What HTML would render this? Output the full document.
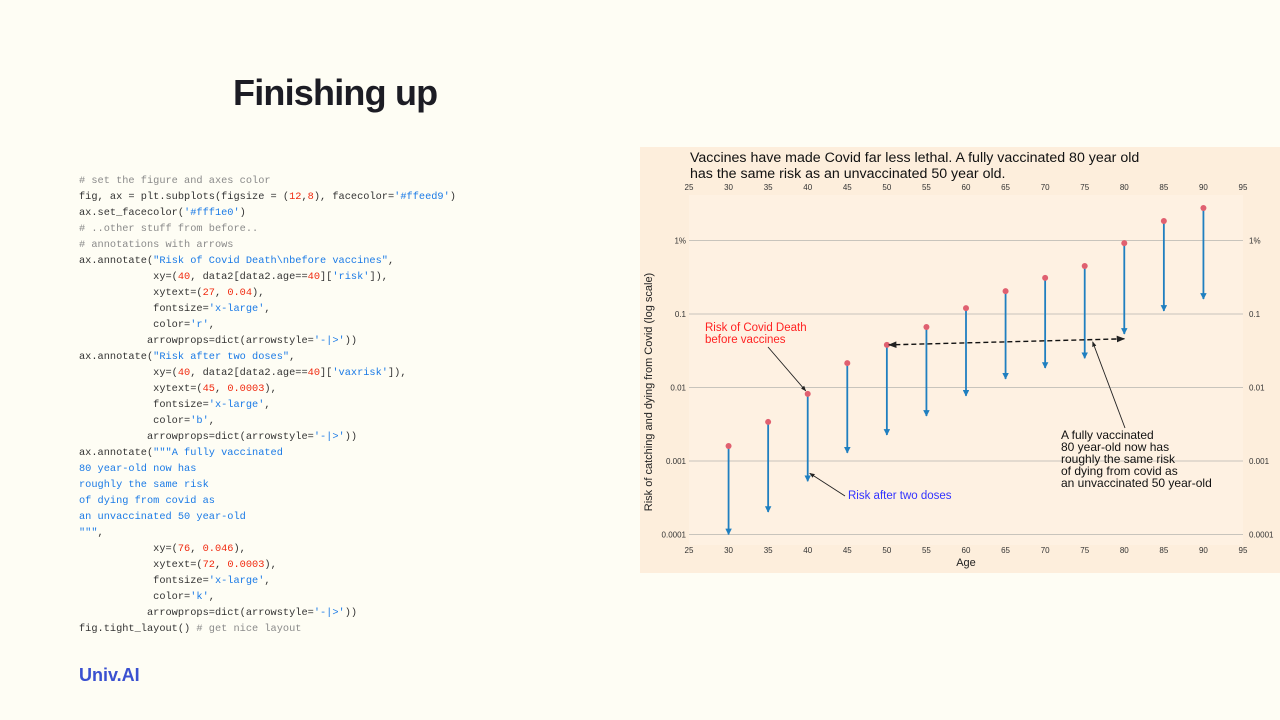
<!DOCTYPE html>
<html><head><meta charset="utf-8">
<style>
body{margin:0;width:1280px;height:720px;background:#fefdf4;position:relative;overflow:hidden;font-family:"Liberation Sans",sans-serif}
#title{position:absolute;left:233px;top:72px;font-size:36px;font-weight:bold;color:#1c1c24;letter-spacing:-0.8px}
#code{position:absolute;left:79px;top:173px;font-family:"Liberation Mono",monospace;font-size:10.3px;line-height:16px;color:#333;white-space:pre;margin:0}
.c{color:#8a8a8a}.s{color:#1a7ae6}.n{color:#f02a10}
#logo{position:absolute;left:79px;top:665px;font-size:18px;font-weight:bold;color:#3a50d0}
#chart{position:absolute;left:640px;top:147px}
</style></head><body>
<div id="title">Finishing up</div>
<pre id="code"><span class="c"># set the figure and axes color</span>
fig, ax = plt.subplots(figsize = (<span class="n">12</span>,<span class="n">8</span>), facecolor=<span class="s">'#ffeed9'</span>)
ax.set_facecolor(<span class="s">'#fff1e0'</span>)
<span class="c"># ..other stuff from before..</span>
<span class="c"># annotations with arrows</span>
ax.annotate(<span class="s">"Risk of Covid Death\nbefore vaccines"</span>,
            xy=(<span class="n">40</span>, data2[data2.age==<span class="n">40</span>][<span class="s">'risk'</span>]),
            xytext=(<span class="n">27</span>, <span class="n">0.04</span>),
            fontsize=<span class="s">'x-large'</span>,
            color=<span class="s">'r'</span>,
           arrowprops=dict(arrowstyle=<span class="s">'-|&gt;'</span>))
ax.annotate(<span class="s">"Risk after two doses"</span>,
            xy=(<span class="n">40</span>, data2[data2.age==<span class="n">40</span>][<span class="s">'vaxrisk'</span>]),
            xytext=(<span class="n">45</span>, <span class="n">0.0003</span>),
            fontsize=<span class="s">'x-large'</span>,
            color=<span class="s">'b'</span>,
           arrowprops=dict(arrowstyle=<span class="s">'-|&gt;'</span>))
ax.annotate(<span class="s">"""A fully vaccinated
80 year-old now has
roughly the same risk
of dying from covid as
an unvaccinated 50 year-old
"""</span>,
            xy=(<span class="n">76</span>, <span class="n">0.046</span>),
            xytext=(<span class="n">72</span>, <span class="n">0.0003</span>),
            fontsize=<span class="s">'x-large'</span>,
            color=<span class="s">'k'</span>,
           arrowprops=dict(arrowstyle=<span class="s">'-|&gt;'</span>))
fig.tight_layout() <span class="c"># get nice layout</span></pre>
<div id="logo">Univ.AI</div>
<svg id="chart" width="640" height="426" font-family="Liberation Sans, DejaVu Sans, sans-serif">
<defs><marker id="ah" viewBox="0 0 10 10" refX="9" refY="5" markerWidth="3.6" markerHeight="3.6" orient="auto"><path d="M0,0L10,5L0,10z" fill="#1f7fc0"/></marker>
<marker id="ak" viewBox="0 0 10 10" refX="9" refY="5" markerWidth="6" markerHeight="6" orient="auto-start-reverse"><path d="M0,1L10,5L0,9z" fill="#222"/></marker></defs>
<rect width="640" height="426" fill="#fdeedc"/>
<rect x="49" y="48" width="554" height="350" fill="#fef1e2"/>
<text x="50" y="15" font-size="14.2" fill="#111">Vaccines have made Covid far less lethal. A fully vaccinated 80 year old</text>
<text x="50" y="31" font-size="14.2" fill="#111">has the same risk as an unvaccinated 50 year old.</text>
<g id="grid"></g><g id="marks"></g>
<text x="326" y="419" font-size="11" text-anchor="middle" fill="#222">Age</text>
<text transform="translate(12,245) rotate(-90)" font-size="11" text-anchor="middle" fill="#222">Risk of catching and dying from Covid (log scale)</text>
<text x="65" y="184" font-size="11.5" fill="#f22">Risk of Covid Death</text>
<text x="65" y="196" font-size="11.5" fill="#f22">before vaccines</text>
<text x="208" y="352" font-size="11.5" fill="#33f">Risk after two doses</text>
<g font-size="12" fill="#111"><text x="421" y="292">A fully vaccinated</text><text x="421" y="304">80 year-old now has</text><text x="421" y="316">roughly the same risk</text><text x="421" y="328">of dying from covid as</text><text x="421" y="340">an unvaccinated 50 year-old</text></g>
</svg>
<script>
const ages=[30,35,40,45,50,55,60,65,70,75,80,85,90];
const risk=[0.0016,0.0034,0.0082,0.0215,0.038,0.0665,0.12,0.205,0.31,0.45,0.92,1.84,2.77];
const vaxrisk=[0.0001,0.000202,0.00053,0.00129,0.00226,0.0041,0.0077,0.0131,0.0184,0.025,0.0535,0.11,0.16];
const xTicks=[25,30,35,40,45,50,55,60,65,70,75,80,85,90,95];
const yTicks=[0.0001,0.001,0.01,0.1,1];
const yLabels=['0.0001','0.001','0.01','0.1','1%'];
const NS='http://www.w3.org/2000/svg';
const X=v=>49+(v-25)*(554/70);
const Y=v=>314-(Math.log10(v)+3)*73.5;
function mk(t,a,p){const e=document.createElementNS(NS,t);for(const k in a)e.setAttribute(k,a[k]);p.appendChild(e);return e;}
const g=document.getElementById('grid'),m=document.getElementById('marks');
yTicks.forEach((v,i)=>{
 const l=mk('line',{x1:49,x2:603,y1:Y(v),y2:Y(v),stroke:'#c8c4bc','stroke-width':1},g);
 
 
 [[46,'end'],[609,'start']].forEach(([x,an])=>{const t=mk('text',{x:x,y:Y(v)+3,'font-size':8,'text-anchor':an,fill:'#333'},g);t.textContent=yLabels[i];
 
 });
});
xTicks.forEach(v=>{[[43],[406]].forEach(([y])=>{const t=mk('text',{x:X(v),y:y,'font-size':8,'text-anchor':'middle',fill:'#333'},g);t.textContent=v;
 
 });});
ages.forEach((a,i)=>{
 const l=mk('line',{x1:X(a),x2:X(a),y1:Y(risk[i]),y2:Y(vaxrisk[i]),stroke:'#1f7fc0','stroke-width':1.8,'marker-end':'url(#ah)'},m);
 
 
 const c=mk('circle',{cx:X(a),cy:Y(risk[i]),r:3,fill:'#e06070'},m);
 
 
});
const a1=mk('line',{x1:X(80),y1:Y(0.046),x2:X(50)+2,y2:Y(risk[4]),stroke:'#111','stroke-width':1.4,'stroke-dasharray':'5,3','marker-end':'url(#ak)','marker-start':'url(#ak)'},m);


const a2=mk('line',{x1:128,y1:200,x2:X(40)-2,y2:Y(risk[2])-3,stroke:'#222','stroke-width':0.9,'marker-end':'url(#ak)'},m);


const a3=mk('line',{x1:205,y1:349,x2:X(40)+2,y2:Y(vaxrisk[2])-8,stroke:'#222','stroke-width':0.9,'marker-end':'url(#ak)'},m);


const a4=mk('line',{x1:485,y1:281,x2:X(76),y2:Y(0.046)+3,stroke:'#222','stroke-width':0.9,'marker-end':'url(#ak)'},m);


</script>
</body></html>
